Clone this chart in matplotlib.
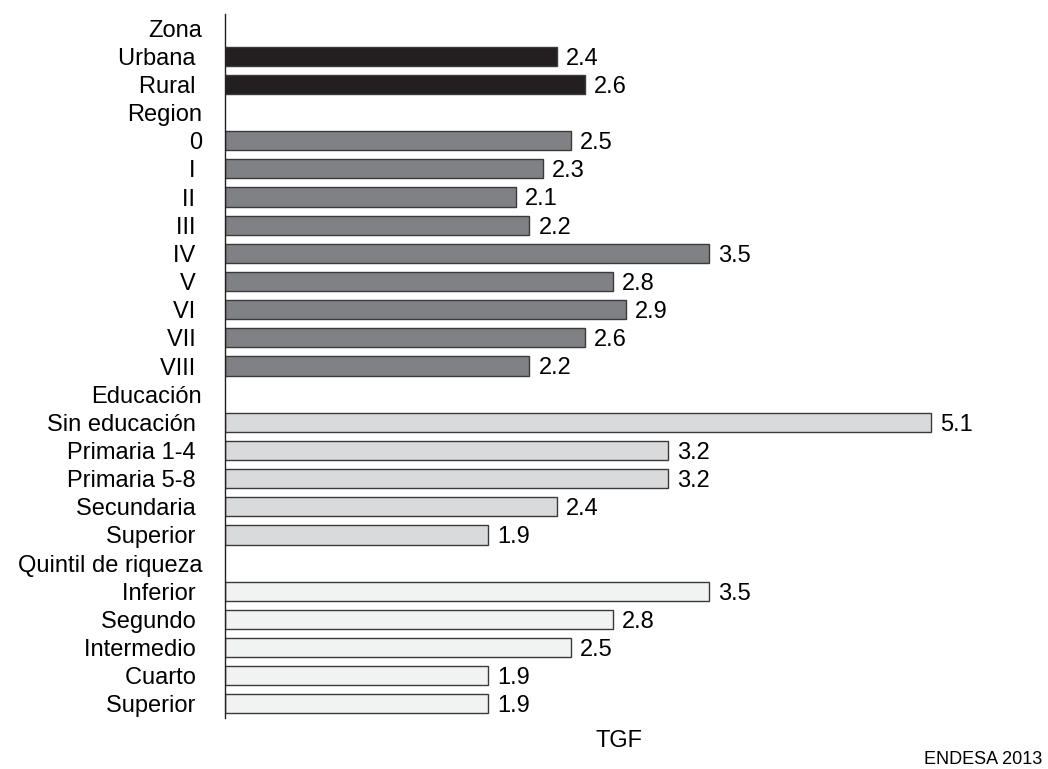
import matplotlib.pyplot as plt

# Data (TGF by group)
zona_labels = ["Urbana ", "Rural "]
zona_values = [2.4, 2.6]

region_labels = ["0", "I ", "II ", "III ", "IV ", "V ", "VI ", "VII ", "VIII "]
region_values = [2.5, 2.3, 2.1, 2.2, 3.5, 2.8, 2.9, 2.6, 2.2]

educ_labels = ["Sin educación ", "Primaria 1-4 ", "Primaria 5-8 ", "Secundaria ", "Superior "]
educ_values = [5.1, 3.2, 3.2, 2.4, 1.9]

quintil_labels = ["Inferior ", "Segundo ", "Intermedio ", "Cuarto ", "Superior "]
quintil_values = [3.5, 2.8, 2.5, 1.9, 1.9]

groups = [
    ("Zona", zona_labels, zona_values, "#231f20"),
    ("Region", region_labels, region_values, "#808184"),
    ("Educación", educ_labels, educ_values, "#d9dadb"),
    ("Quintil de riqueza", quintil_labels, quintil_values, "#f1f2f2"),
]

plt.rcParams["font.family"] = ["Liberation Sans", "DejaVu Sans"]
FS = 17

fig = plt.figure(figsize=(10.48, 7.69), dpi=100)
ax = fig.add_axes([225 / 1048, 1 - 718 / 769, (1000 - 225) / 1048, 704 / 769])

labels = []
pos = 0
for header, names, vals, color in groups:
    labels.append(header)
    pos += 1
    for name, v in zip(names, vals):
        ax.barh(pos, v, height=0.68, color=color, edgecolor="#3a3a3a", linewidth=1)
        # digits centred on the bar: baseline sits half a digit height below centre
        ax.text(v + 0.065, pos + 0.3, f"{v:.1f}", va="baseline", ha="left", fontsize=FS)
        labels.append(name)
        pos += 1

ax.set_yticks(range(len(labels)))
ax.set_yticklabels(labels, fontsize=FS)
ax.tick_params(axis="y", length=0, pad=16.5)
ax.set_xticks([])
ax.set_ylim(len(labels) - 0.5, -0.5)
ax.set_xlim(0, (1000 - 225) / 138.4)

for side in ["top", "right", "bottom"]:
    ax.spines[side].set_visible(False)
ax.spines["left"].set_color("#231f20")
ax.spines["left"].set_linewidth(1)

fig.text(619 / 1048, 1 - 741 / 769, "TGF", ha="center", va="center", fontsize=FS)
fig.text(1042 / 1048, 1 - 759 / 769, "ENDESA 2013", ha="right", va="center", fontsize=13)

fig.savefig("out.png", dpi=100)
